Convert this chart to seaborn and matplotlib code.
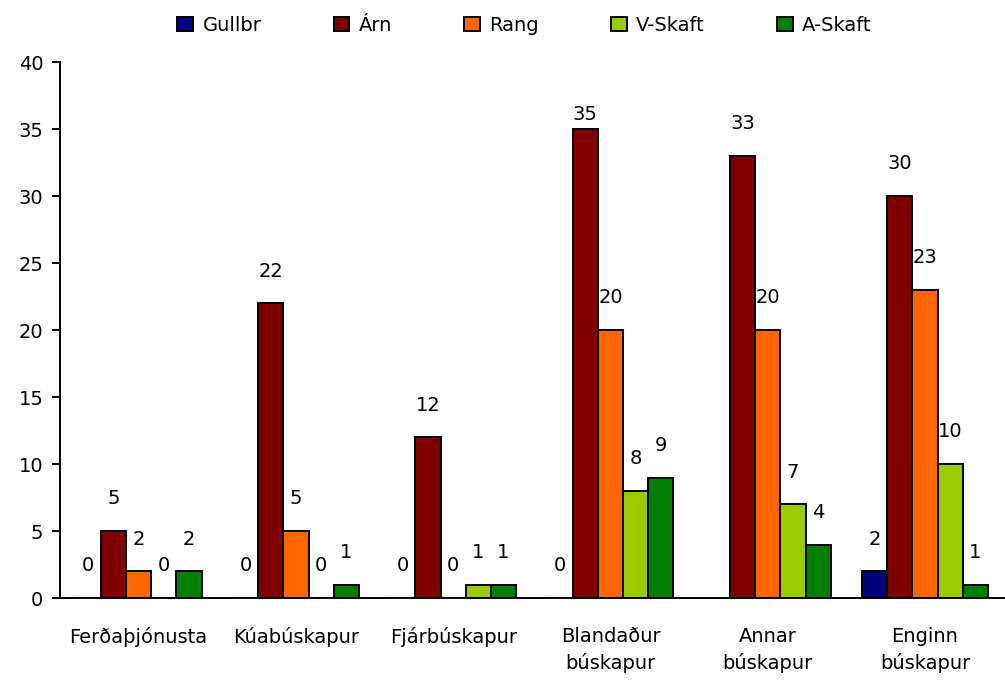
import numpy as np
import pandas as pd
import matplotlib
matplotlib.use("Agg")
import matplotlib.pyplot as plt
import seaborn as sns

# Categories and series
categories = ["Ferðaþjónusta", "Kúabúskapur", "Fjárbúskapur",
              "Blandaður\nbúskapur", "Annar\nbúskapur", "Enginn\nbúskapur"]
series = ["Gullbr", "Árn", "Rang", "V-Skaft", "A-Skaft"]
gullbr = [0, 0, 0, 0, np.nan, 2]
arn = [5, 22, 12, 35, 33, 30]
rang = [2, 5, 0, 20, 20, 23]
v_skaft = [0, 0, 1, 8, 7, 10]
a_skaft = [2, 1, 1, 9, 4, 1]
colors = ["#000080", "#800000", "#FF6600", "#99CC00", "#008000"]

# Long-form table for seaborn
values = [gullbr, arn, rang, v_skaft, a_skaft]
rows = []
for name, vals in zip(series, values):
    for cat, v in zip(categories, vals):
        rows.append({"cat": cat, "series": name, "value": v})
df = pd.DataFrame(rows)

sns.set_style("white")
plt.rcParams["font.family"] = ["DejaVu Sans"]
plt.rcParams["text.color"] = "black"
plt.rcParams["xtick.color"] = "black"
plt.rcParams["ytick.color"] = "black"

fig = plt.figure(figsize=(10.05, 6.82), dpi=100)
ax = fig.add_axes([0.0597, 0.123, 0.939, 0.786])

sns.barplot(data=df, x="cat", y="value", hue="series", order=categories,
            hue_order=series, palette=colors, width=0.8, edgecolor="black",
            linewidth=1.4, saturation=1, ax=ax)

# Value labels above each bar
for cont in ax.containers:
    for bar in cont:
        h = bar.get_height()
        if np.isnan(h):
            continue
        ax.text(bar.get_x() + bar.get_width() / 2, min(h + 2.4, 36.1),
                f"{h:g}", ha="center", va="center", fontsize=14, color="black")

ax.set_ylim(0, 40)
ax.set_yticks(range(0, 41, 5))
ax.set_xlim(-0.5, len(categories) - 0.5)
ax.set_xlabel("")
ax.set_ylabel("")
ax.tick_params(axis="y", direction="out", length=6, width=1.4, labelsize=14,
               left=True, pad=6, labelcolor="black")
ax.tick_params(axis="x", length=0, labelsize=14, pad=21, labelcolor="black")
for lab in ax.get_xticklabels():
    lab.set_linespacing(1.45)
    lab.set_va("top")

sns.despine(ax=ax, top=True, right=True)
for side in ["left", "bottom"]:
    ax.spines[side].set_color("black")
    ax.spines[side].set_linewidth(1.4)

handles, labels = ax.get_legend_handles_labels()
leg = ax.legend(handles, labels, loc="center", bbox_to_anchor=(0.522, 0.963),
                bbox_transform=fig.transFigure, ncol=5, frameon=False, fontsize=14,
                handlelength=0.8, handleheight=0.8, handletextpad=0.5,
                columnspacing=3.7)
for t in leg.get_texts():
    t.set_color("black")

fig.savefig("out.png", dpi=100)
